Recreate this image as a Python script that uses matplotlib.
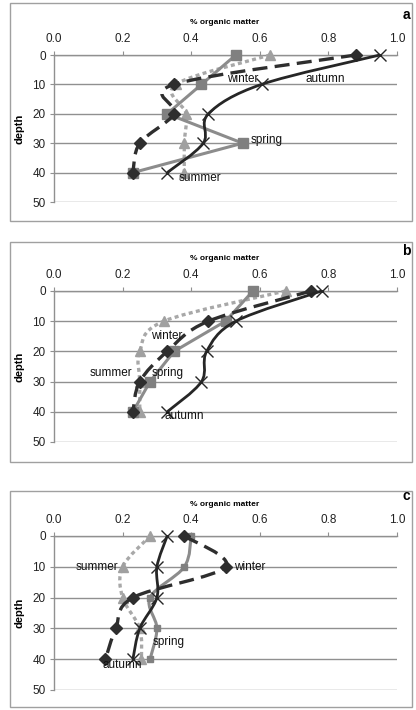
import matplotlib
matplotlib.use("Agg")
import matplotlib.pyplot as plt
from matplotlib.patches import Rectangle, PathPatch
from matplotlib.path import Path

plt.rcParams["font.family"] = ["Liberation Sans", "DejaVu Sans"]

depth = [0, 10, 20, 30, 40]
x_ticks = [0.0, 0.2, 0.4, 0.6, 0.8, 1.0]
y_ticks = [0, 10, 20, 30, 40, 50]

# % organic matter per season, panels a, b, c
winter_a = [0.88, 0.35, 0.35, 0.25, 0.23]
spring_a = [0.53, 0.43, 0.33, 0.55, 0.23]
summer_a = [0.63, 0.355, 0.385, 0.38, 0.38]
autumn_a = [0.95, 0.605, 0.45, 0.435, 0.33]

winter_b = [0.75, 0.45, 0.33, 0.25, 0.23]
spring_b = [0.58, 0.50, 0.35, 0.28, 0.23]
summer_b = [0.675, 0.32, 0.25, 0.25, 0.25]
autumn_b = [0.78, 0.53, 0.445, 0.43, 0.33]

winter_c = [0.38, 0.50, 0.23, 0.18, 0.15]
spring_c = [0.40, 0.38, 0.28, 0.30, 0.28]
summer_c = [0.28, 0.20, 0.20, 0.25, 0.255]
autumn_c = [0.33, 0.30, 0.30, 0.25, 0.23]

# label positions (x, depth) for season names
labels_a = {"winter": (0.55, 8), "autumn": (0.79, 8), "spring": (0.62, 29), "summer": (0.425, 42)}
labels_b = {"winter": (0.33, 15), "summer": (0.165, 27), "spring": (0.33, 27), "autumn": (0.38, 41.5)}
labels_c = {"summer": (0.125, 10), "winter": (0.57, 10), "spring": (0.335, 34.5), "autumn": (0.20, 42)}


def smooth_path(xs, ys, smooth=True):
    # excel-style smoothed line: cubic bezier through the points
    n = len(xs)
    if not smooth:
        return Path(list(zip(xs, ys)))
    verts = [(xs[0], ys[0])]
    codes = [Path.MOVETO]
    for i in range(n - 1):
        i0 = max(i - 1, 0)
        i3 = min(i + 2, n - 1)
        c1 = (xs[i] + (xs[i + 1] - xs[i0]) / 6, ys[i] + (ys[i + 1] - ys[i0]) / 6)
        c2 = (xs[i + 1] - (xs[i3] - xs[i]) / 6, ys[i + 1] - (ys[i3] - ys[i]) / 6)
        verts += [c1, c2, (xs[i + 1], ys[i + 1])]
        codes += [Path.CURVE4] * 3
    return Path(verts, codes)


def season(ax, xs, color, lw, ls, marker, ms, mcol, z, smooth=True):
    ax.add_patch(PathPatch(smooth_path(xs, depth, smooth), fill=False, edgecolor=color, lw=lw,
                           linestyle=ls, zorder=z, clip_on=False, capstyle="butt",
                           joinstyle="round"))
    ax.plot(xs, depth, ls="none", marker=marker, ms=ms, mec=mcol, mfc=mcol, mew=1.0,
            zorder=z + 0.5, clip_on=False)


W, H = 416, 710
fig = plt.figure(figsize=(W / 100, H / 100), dpi=100)
fig.patch.set_facecolor("white")

panels = [
    ("a", winter_a, spring_a, summer_a, autumn_a, labels_a, (55, 202), (3, 221)),
    ("b", winter_b, spring_b, summer_b, autumn_b, labels_b, (291, 442), (242, 462)),
    ("c", winter_c, spring_c, summer_c, autumn_c, labels_c, (536, 690), (491, 707)),
]

for name, win, spr, sumr, aut, labs, (ytop, ybot), (btop, bbot) in panels:
    # outer chart box
    fig.patches.append(Rectangle((10 / W, 1 - bbot / H), 402 / W, (bbot - btop) / H,
                                 transform=fig.transFigure, fill=False,
                                 edgecolor="#a0a0a0", lw=1.0))
    ax = fig.add_axes([54 / W, 1 - ybot / H, 343 / W, (ybot - ytop) / H])
    ax.set_xlim(0, 1.0)
    ax.set_ylim(50, 0)
    ax.set_xticks(x_ticks)
    ax.set_xticklabels(["%.1f" % v for v in x_ticks])
    ax.set_yticks(y_ticks)
    ax.xaxis.tick_top()
    ax.tick_params(axis="x", length=3, color="#909090", labelsize=8.5, pad=4, labelcolor="#222222")
    ax.tick_params(axis="y", length=3, color="#909090", labelsize=8.5, pad=3, labelcolor="#222222")
    for s in ["right", "bottom"]:
        ax.spines[s].set_visible(False)
    for s in ["left", "top"]:
        ax.spines[s].set_color("#909090")
        ax.spines[s].set_linewidth(1.0)
    ax.yaxis.grid(True, color="#909090", lw=1.0)
    ax.set_axisbelow(True)

    season(ax, sumr, "#a8a8a8", 2.4, (0, (1.2, 1.0)), "^", 6.5, "#a0a0a0", 3)
    season(ax, spr, "#8c8c8c", 2.2, "-", "s", 7.5 if name != "c" else 4.5, "#808080", 4,
           smooth=(name == "c"))
    season(ax, win, "#2e2e2e", 2.4, (0, (4.5, 2.2)), "D", 6.5, "#2e2e2e", 5)
    season(ax, aut, "#262626", 2.0, "-", "x", 9, "#262626", 6)

    for txt, (lx, ly) in labs.items():
        ax.text(lx, ly, txt, fontsize=8.5, ha="center", va="center", color="#111111", zorder=8)

    fig.text(0.497 * 343 / W + 54 / W, 1 - (ytop - 32) / H, "% organic matter",
             fontsize=6, fontweight="bold", ha="center", va="center")
    fig.text(406 / W, 1 - (ytop - 40) / H, name, fontsize=10, fontweight="bold",
             ha="center", va="center")
    ax.set_ylabel("depth", fontsize=8, fontweight="bold", labelpad=6)

fig.savefig("out.png", dpi=100, facecolor="white")
